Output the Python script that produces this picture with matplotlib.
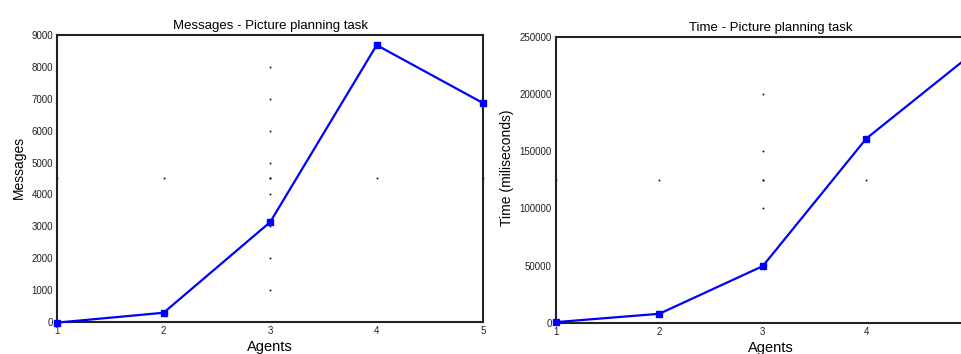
import matplotlib.pyplot as plt

plt.rcParams['font.family'] = ['Liberation Sans', 'DejaVu Sans']

# データ
agents = [1, 2, 3, 4, 5]
messages = [-20, 290, 3130, 8680, 6860]
times = [500, 7800, 49500, 161000, 233500]

msg_ticks = [0, 1000, 2000, 3000, 4000, 5000, 6000, 7000, 8000, 9000]
time_ticks = [0, 50000, 100000, 150000, 200000, 250000]

fig = plt.figure(figsize=(9.62, 3.54), dpi=100)
ax1 = fig.add_axes([0.0593, 0.0904, 0.443, 0.811])
ax2 = fig.add_axes([0.5777, 0.0884, 0.4305, 0.808])

BLUE = (0, 0, 1)


def style(ax, yticks, ymax, title, ylabel, title_x):
    ax.set_xlim(1, 5)
    ax.set_ylim(0, ymax)
    ax.set_xticks(agents)
    ax.set_yticks(yticks)
    ax.tick_params(length=0, labelsize=7, pad=3, colors='#222222')
    for s in ax.spines.values():
        s.set_linewidth(1.5)
        s.set_color('#222222')
    ax.set_title(title, fontsize=9.5, x=title_x, pad=4)
    ax.set_xlabel('Agents', fontsize=10.5, labelpad=3, x=title_x)
    ax.set_ylabel(ylabel, fontsize=10, labelpad=4, y=0.54)
    # 中央の目盛り点（元の図のアーティファクト）
    mid = ymax / 2
    ax.plot([3] * len(yticks) + [3], list(yticks) + [mid], ls='none',
            marker='s', ms=1.2, color='black', mew=0, clip_on=False, zorder=1)
    ax.plot(agents, [mid] * len(agents), ls='none',
            marker='s', ms=1.2, color='black', mew=0, clip_on=False, zorder=1)


style(ax1, msg_ticks[1:-1], 9000, 'Messages - Picture planning task', 'Messages', 0.5)
ax1.set_yticks(msg_ticks)
ax1.plot(agents, messages, color=BLUE, lw=1.6, marker='s', ms=3.8,
         clip_on=False, zorder=3)

style(ax2, time_ticks[2:-1], 250000, 'Time - Picture planning task',
      'Time (miliseconds)', 0.52)
ax2.set_yticks(time_ticks)
ax2.set_xticks(agents[:-1])
ax2.plot(agents, times, color=BLUE, lw=1.6, marker='s', ms=3.8,
         clip_on=False, zorder=3)

plt.savefig('out.png', dpi=100)
